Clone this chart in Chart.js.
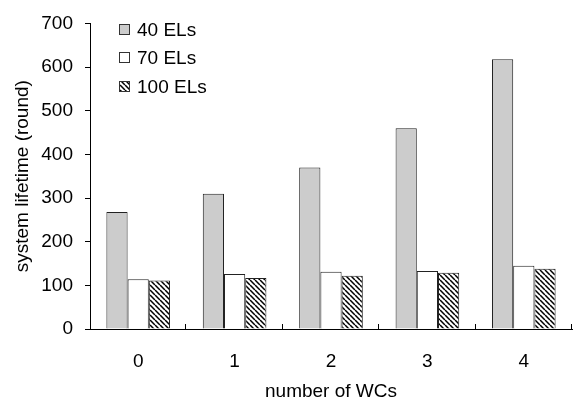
<!DOCTYPE html>
<html>
<head>
<meta charset="utf-8">
<script src="https://cdn.jsdelivr.net/npm/chart.js@4.4.0/dist/chart.umd.min.js"></script>
<style>
  html, body { margin: 0; padding: 0; background: #fff; }
  #wrap { width: 585px; height: 403px; }
</style>
</head>
<body>
<div id="wrap"><canvas id="lifetime"></canvas></div>
<script>
// Data
var categories = ['0', '1', '2', '3', '4'];
var els40 = [268, 310, 370, 460, 618];
var els70 = [114, 126, 131, 133, 145];
var els100 = [111, 117, 122, 129, 138];
var yTicks = [0, 100, 200, 300, 400, 500, 600, 700];

var FONT = 'Liberation Sans, Arial, sans-serif';
var FS = 19;

// Hatch pattern "\\\\" for the 100 ELs series
function makeHatch() {
  var s = 5;
  var c = document.createElement('canvas');
  c.width = s; c.height = s;
  var g = c.getContext('2d');
  g.fillStyle = '#fff';
  g.fillRect(0, 0, s, s);
  g.strokeStyle = '#000';
  g.lineWidth = 1.5;
  g.beginPath();
  for (var k = -1; k <= 1; k++) {
    g.moveTo(k * s, 0);
    g.lineTo(k * s + s, s);
  }
  g.stroke();
  return g.createPattern(c, 'repeat');
}
var hatch = makeHatch();

// Small ticks pointing up at the category boundaries
var innerTicks = {
  id: 'innerTicks',
  afterDatasetsDraw: function (chart) {
    var x = chart.scales.x, ctx = chart.ctx;
    var half = (x.right - x.left) / categories.length / 2;
    ctx.save();
    ctx.strokeStyle = '#000';
    ctx.lineWidth = 1;
    ctx.beginPath();
    for (var i = 0; i < categories.length; i++) {
      var px = Math.round(x.getPixelForValue(i) + half) - 0.5;
      ctx.moveTo(px, x.top);
      ctx.lineTo(px, x.top - 5);
    }
    ctx.stroke();
    ctx.restore();
  }
};

// Legend drawn inside the plot, top left
var insideLegend = {
  id: 'insideLegend',
  afterDraw: function (chart) {
    var ctx = chart.ctx;
    var rows = [30, 58, 87];
    ctx.save();
    ctx.font = FS + 'px ' + FONT;
    ctx.textBaseline = 'middle';
    chart.data.datasets.forEach(function (ds, i) {
      var y = rows[i];
      ctx.fillStyle = ds.backgroundColor;
      ctx.fillRect(119, y - 6, 11, 11);
      ctx.strokeStyle = '#333';
      ctx.lineWidth = 1;
      ctx.strokeRect(119.5, y - 5.5, 10, 10);
      ctx.fillStyle = '#000';
      ctx.fillText(ds.label, 137, y + 1);
    });
    ctx.restore();
  }
};

new Chart(document.getElementById('lifetime'), {
  type: 'bar',
  data: {
    labels: categories,
    datasets: [
      { label: '40 ELs', data: els40, backgroundColor: '#cccccc', borderColor: '#222', borderWidth: 1 },
      { label: '70 ELs', data: els70, backgroundColor: '#ffffff', borderColor: '#222', borderWidth: 1 },
      { label: '100 ELs', data: els100, backgroundColor: hatch, borderColor: '#222', borderWidth: 1 }
    ]
  },
  options: {
    responsive: true,
    maintainAspectRatio: false,
    animation: false,
    layout: { padding: { left: 0, right: 13, top: 15, bottom: 0 } },
    datasets: { bar: { categoryPercentage: 0.66, barPercentage: 1.0 } },
    plugins: { legend: { display: false }, tooltip: { enabled: false } },
    scales: {
      x: {
        grid: { display: true, drawOnChartArea: false, drawTicks: false },
        border: { color: '#000', width: 1 },
        ticks: { color: '#000', padding: 21, font: { family: FONT, size: FS } },
        title: { display: true, text: 'number of WCs', color: '#000', padding: { top: 0, bottom: 0 }, font: { family: FONT, size: FS } },
        afterFit: function (s) { s.height = 74; }
      },
      y: {
        min: 0,
        max: 700,
        afterBuildTicks: function (s) { s.ticks = yTicks.map(function (v) { return { value: v }; }); },
        grid: { display: true, drawOnChartArea: false, drawTicks: true, tickLength: 5, color: '#000' },
        border: { color: '#000', width: 1 },
        ticks: { color: '#000', padding: 12, font: { family: FONT, size: FS } },
        title: { display: true, text: 'system lifetime (round)', color: '#000', padding: { top: 11, bottom: 0 }, font: { family: FONT, size: FS } },
        afterFit: function (s) { s.width = 90; }
      }
    }
  },
  plugins: [innerTicks, insideLegend]
});
</script>
</body>
</html>
